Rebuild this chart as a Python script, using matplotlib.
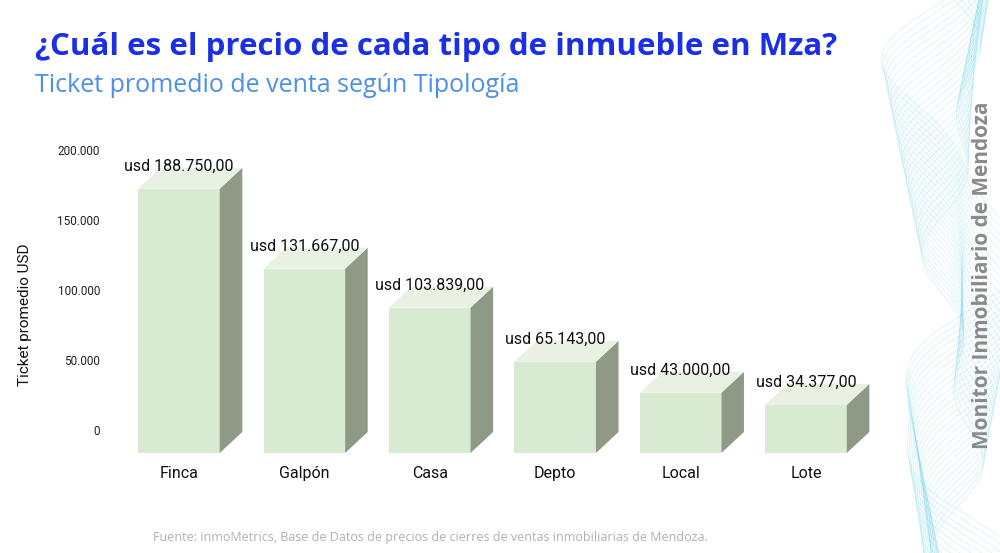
import numpy as np
import matplotlib.pyplot as plt
from matplotlib.patches import Polygon

categorias = ['Finca', 'Galpón', 'Casa', 'Depto', 'Local', 'Lote']
valores = [188750, 131667, 103839, 65143, 43000, 34377]
etiquetas = ['usd 188.750,00', 'usd 131.667,00', 'usd 103.839,00',
             'usd 65.143,00', 'usd 43.000,00', 'usd 34.377,00']
ticks = [0, 50000, 100000, 150000, 200000]
tick_labels = ['0', '50.000', '100.000', '150.000', '200.000']

W, H = 1000, 553
fig = plt.figure(figsize=(10, 5.53), dpi=100)

# ejes en coordenadas de pixel
def px_axes(x0, y0, x1, y1):
    return fig.add_axes([x0 / W, 1 - y1 / H, (x1 - x0) / W, (y1 - y0) / H])

ax = px_axes(115, 140, 870, 470)
ax.set_xlim(-0.51, 5.51)
ax.set_ylim(-27143, 208571)
ax.axis('off')

ancho = 0.65
dx = 0.18
dy = 15000
frente = '#d9ead3'
lado = '#8f9a86'
arriba = '#e8f1e2'
for i, v in enumerate(valores):
    x0, x1 = i - ancho / 2, i + ancho / 2
    y0, y1 = -dy, v - dy
    ax.add_patch(Polygon([(x0, y0), (x1, y0), (x1, y1), (x0, y1)], closed=True, fc=frente, ec='none'))
    ax.add_patch(Polygon([(x1, y0), (x1 + dx, 0), (x1 + dx, v), (x1, y1)], closed=True, fc=lado, ec='none'))
    ax.add_patch(Polygon([(x0, y1), (x1, y1), (x1 + dx, v), (x0 + dx, v)], closed=True, fc=arriba, ec='none'))
    ax.text(i, v - 4500, etiquetas[i], ha='center', va='bottom', fontsize=11.5, color='#111111', family='Roboto')
    ax.text(i, -24000, categorias[i], ha='center', va='top', fontsize=11.5, color='#111111', family='Roboto')

for t, lab in zip(ticks, tick_labels):
    ax.text(-0.63, t, lab, ha='right', va='center', fontsize=8.5, color='#222222', clip_on=False, family='Roboto')

fig.text(25 / W, 1 - 315 / H, 'Ticket promedio USD', rotation=90, ha='center', va='center', fontsize=11,
         color='#111111', family='Roboto')

fig.text(35 / W, 1 - 47 / H, '¿Cuál es el precio de cada tipo de inmueble en Mza?', fontsize=22.5,
         fontweight='bold', color='#1a2fe6', family='Open Sans', va='center')
fig.text(35 / W, 1 - 86 / H, 'Ticket promedio de venta según Tipología', fontsize=18,
         color='#4a8fe8', family='Open Sans', va='center')
fig.text(430 / W, 1 - 537 / H, 'Fuente: inmoMetrics, Base de Datos de precios de cierres de ventas inmobiliarias de Mendoza.',
         fontsize=9, color='#b0b0b0', family='Open Sans', ha='center', va='center')

# decoracion lateral
deco = px_axes(880, 0, 1000, 553)
deco.set_xlim(0, 1)
deco.set_ylim(553, 0)
deco.axis('off')
yy = np.linspace(0, 553, 400)
for k in range(30):
    a = 0.15 + 0.012 * k
    xx = 0.62 + a * np.sin(yy / 55 + k * 0.12) + 0.12 * np.sin(yy / 23 + k * 0.3)
    deco.plot(xx, yy, color='#7fd6ea', lw=0.4, alpha=0.45)
fig.text(982 / W, 1 - 275 / H, 'Monitor Inmobiliario de Mendoza', rotation=90, ha='center', va='center',
         fontsize=15, fontweight='bold', color='#8a8a8a', family='Open Sans')

fig.savefig('out.png', dpi=100)
